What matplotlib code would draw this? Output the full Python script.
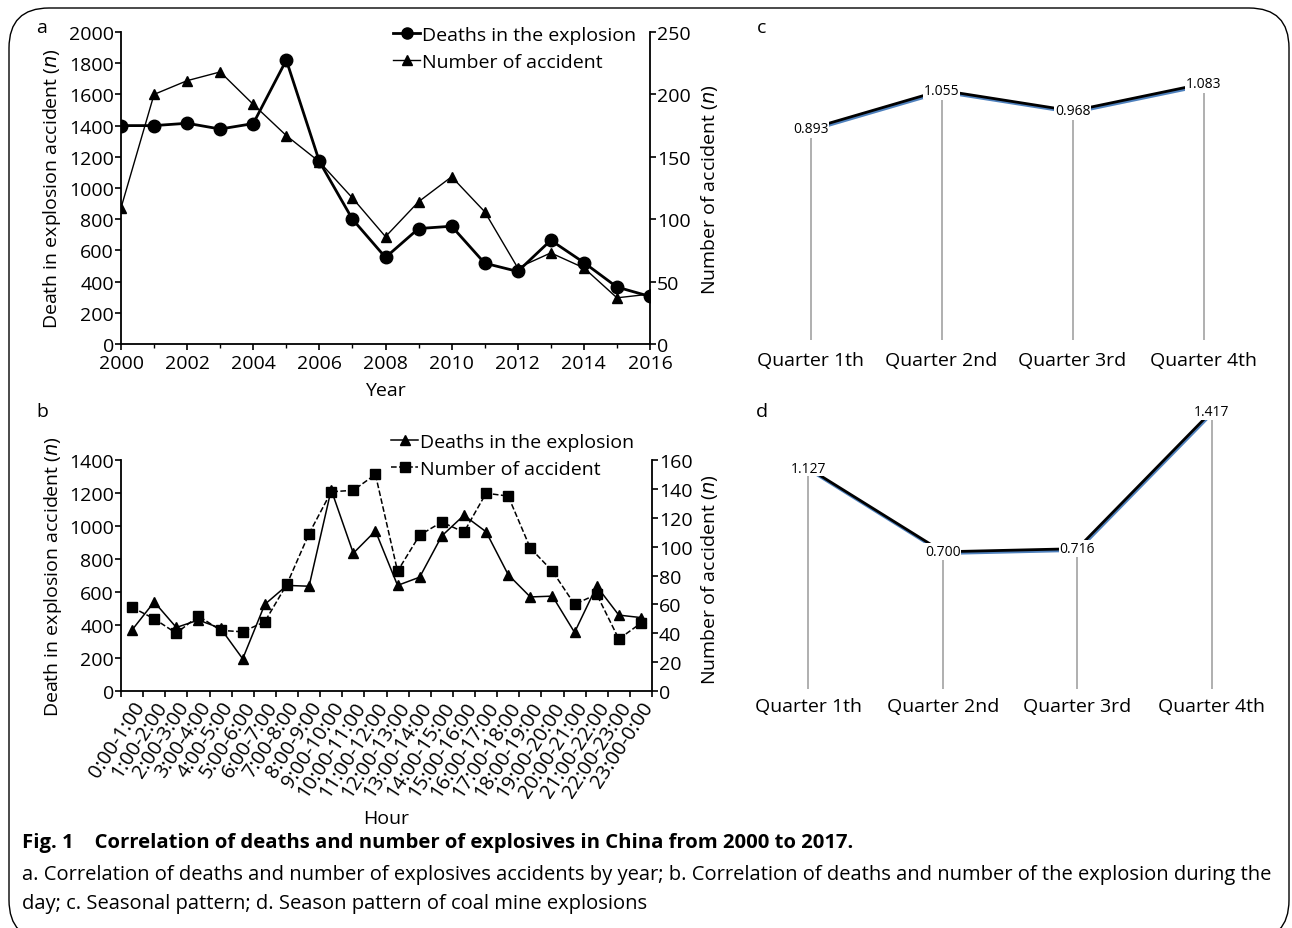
import numpy as np
import matplotlib.pyplot as plt
import matplotlib.patheffects as pe
from matplotlib.lines import Line2D
from matplotlib.patches import FancyBboxPatch

plt.rcParams['font.family'] = ['Open Sans', 'DejaVu Sans']

# panel a - by year
years = list(range(2000, 2017))
deaths_year = [1400, 1400, 1415, 1378, 1413, 1820, 1170, 800, 555, 740, 755,
               518, 465, 665, 522, 365, 305]
accidents_year = [109, 200, 211, 218, 192, 167, 146, 117, 86, 114, 134,
                  106, 61, 73, 61, 37, 40]

# panel b - by hour of day
hours = ["0:00-1:00", "1:00-2:00", "2:00-3:00", "3:00-4:00", "4:00-5:00",
         "5:00-6:00", "6:00-7:00", "7:00-8:00", "8:00-9:00", "9:00-10:00",
         "10:00-11:00", "11:00-12:00", "12:00-13:00", "13:00-14:00",
         "14:00-15:00", "15:00-16:00", "16:00-17:00", "17:00-18:00",
         "18:00-19:00", "19:00-20:00", "20:00-21:00", "21:00-22:00",
         "22:00-23:00", "23:00-0:00"]
deaths_hour = [370, 540, 385, 430, 380, 195, 525, 640, 635, 1220, 835, 970,
               640, 690, 940, 1065, 965, 705, 570, 575, 355, 635, 460, 445]
accidents_hour = [58, 50, 40, 52, 42, 41, 48, 74, 109, 138, 139, 150,
                  83, 108, 117, 110, 137, 135, 99, 83, 60, 67, 36, 47]

# panels c, d - seasonal
quarters = ["Quarter 1th", "Quarter 2nd", "Quarter 3rd", "Quarter 4th"]
seasonal = [0.893, 1.055, 0.968, 1.083]
coal_seasonal = [1.127, 0.700, 0.716, 1.417]

W, H = 1292, 929
fig = plt.figure(figsize=(W / 100, H / 100), dpi=100)


def box(l, t, r, b):
    return [l / W, 1 - b / H, (r - l) / W, (b - t) / H]


# rounded frame
bg = fig.add_axes([0, 0, 1, 1], zorder=-5)
bg.set_xlim(0, W)
bg.set_ylim(H, 0)
bg.axis('off')
bg.add_patch(FancyBboxPatch((9, 9), 1280, 932,
                            boxstyle='round,pad=0,rounding_size=40',
                            fc='white', ec='black', lw=1))

FS = 14


def style_dual(ax, ax2):
    for a in (ax, ax2):
        a.set_facecolor('none')
        a.spines['top'].set_visible(False)
        for s in a.spines.values():
            s.set_linewidth(1.3)
        a.tick_params(direction='out', length=4, width=1.2, labelsize=FS, pad=1)
    ax.spines['right'].set_visible(False)
    ax2.spines['left'].set_visible(False)
    ax2.spines['bottom'].set_visible(False)


# ---- panel a ----
ax_a = fig.add_axes(box(121, 33, 650, 345))
ax_a2 = ax_a.twinx()
style_dual(ax_a, ax_a2)
ax_a.plot(years, deaths_year, '-o', color='black', lw=2.0, ms=9)
ax_a2.plot(years, accidents_year, '-^', color='black', lw=1.0, ms=7)
ax_a.set_xlim(2000, 2016)
ax_a.set_ylim(0, 2000)
ax_a.set_yticks(range(0, 2001, 200))
ax_a.set_xticks(range(2000, 2017, 2))
ax_a.set_xticks(range(2000, 2017), minor=True)
ax_a.tick_params(which='minor', length=3, direction='out', width=1)
ax_a.tick_params(axis='x', pad=3)
ax_a2.set_ylim(0, 250)
ax_a2.set_yticks(range(0, 251, 50))
ax_a.set_xlabel('Year', fontsize=FS, labelpad=7)
ax_a.set_ylabel('Death in explosion accident ($n$)', fontsize=FS, labelpad=4)
fig.text(42 / W, 1 - 28 / H, 'a', fontsize=FS, ha='center', va='center')
fig.text(710 / W, 1 - 190 / H, 'Number of accident ($n$)', fontsize=FS,
         rotation=90, ha='center', va='center')
h1 = Line2D([], [], color='black', lw=2.0, marker='o', ms=8)
h2 = Line2D([], [], color='black', lw=1.0, marker='^', ms=7)
fig.legend([h1, h2], ['Deaths in the explosion', 'Number of accident'],
           loc='upper left', bbox_to_anchor=(393 / W, 1 - 27 / H),
           frameon=False, fontsize=FS, handlelength=1.4, handletextpad=0.1,
           labelspacing=0.45, borderpad=0, borderaxespad=0)

# ---- panel b ----
ax_b = fig.add_axes(box(121, 461, 652, 692))
ax_b2 = ax_b.twinx()
style_dual(ax_b, ax_b2)
xh = np.arange(len(hours))
ax_b.plot(xh, deaths_hour, '-^', color='black', lw=1.1, ms=7)
ax_b2.plot(xh, accidents_hour, '--s', color='black', lw=1.1, ms=7)
ax_b.set_xlim(-0.5, len(hours) - 0.5)
ax_b.set_ylim(0, 1400)
ax_b.set_yticks(range(0, 1401, 200))
ax_b2.set_ylim(0, 160)
ax_b2.set_yticks(range(0, 161, 20))
ax_b.set_xticks(np.arange(-0.5, len(hours), 1.0))
ax_b.set_xticklabels([])
ax_b.set_xticks(xh, minor=True)
ax_b.set_xticklabels(hours, minor=True, rotation=57, ha='right',
                     rotation_mode='anchor', fontsize=14.5)
ax_b.tick_params(which='minor', length=0, pad=5)
ax_b.set_xlabel('Hour', fontsize=FS, labelpad=6)
ax_b.set_ylabel('Death in explosion accident ($n$)', fontsize=FS, labelpad=4)
fig.text(42 / W, 1 - 412 / H, 'b', fontsize=FS, ha='center', va='center')
fig.text(710 / W, 1 - 580 / H, 'Number of accident ($n$)', fontsize=FS,
         rotation=90, ha='center', va='center')
h3 = Line2D([], [], color='black', lw=1.1, marker='^', ms=7)
h4 = Line2D([], [], color='black', lw=1.1, ls='--', marker='s', ms=7)
fig.legend([h3, h4], ['Deaths in the explosion', 'Number of accident'],
           loc='upper left', bbox_to_anchor=(391 / W, 1 - 434 / H),
           frameon=False, fontsize=FS, handlelength=1.4, handletextpad=0.1,
           labelspacing=0.45, borderpad=0, borderaxespad=0)


# ---- panels c, d ----
def quarter_panel(ax, vals, pad):
    x = np.arange(len(vals))
    v = np.array(vals)
    ax.set_facecolor('none')
    ax.plot(x, v, color='black', lw=2.0, solid_capstyle='butt', zorder=2,
            path_effects=[pe.SimpleLineShadow(offset=(0.6, -1.3),
                                               shadow_color='#4f81bd', alpha=1),
                          pe.Normal()])
    ax.vlines(x, 0, v - 0.04, color='#9a9a9a', lw=1.1, zorder=1)
    for xi, vi in zip(x, v):
        ax.text(xi, vi, f'{vi:.3f}', ha='center', va='center', fontsize=10,
                zorder=3, bbox=dict(fc='white', ec='none', pad=0.6))
    ax.set_xlim(-0.5, len(vals) - 0.5)
    ax.set_xticks(x, quarters)
    ax.set_yticks([])
    ax.tick_params(length=0, labelsize=14, pad=pad)
    for s in ax.spines.values():
        s.set_visible(False)


ax_c = fig.add_axes(box(745, 57, 1269, 341))
ax_c.set_ylim(0, 1.2)
quarter_panel(ax_c, seasonal, 8)
fig.text(762 / W, 1 - 28 / H, 'c', fontsize=FS, ha='center', va='center')

ax_d = fig.add_axes(box(741, 396, 1279, 690))
ax_d.set_ylim(0, 1.5)
quarter_panel(ax_d, coal_seasonal, 6)
fig.text(762 / W, 1 - 412 / H, 'd', fontsize=FS, ha='center', va='center')

# ---- caption ----
fig.text(22 / W, 1 - 843 / H,
         'Fig. 1    Correlation of deaths and number of explosives in China from 2000 to 2017.',
         fontsize=14.6, fontweight='bold', ha='left', va='center')
fig.text(22 / W, 1 - 875 / H,
         'a. Correlation of deaths and number of explosives accidents by year; '
         'b. Correlation of deaths and number of the explosion during the',
         fontsize=14.5, ha='left', va='center')
fig.text(22 / W, 1 - 904 / H,
         'day; c. Seasonal pattern; d. Season pattern of coal mine explosions',
         fontsize=14.5, ha='left', va='center')

fig.savefig('out.png', dpi=100)
